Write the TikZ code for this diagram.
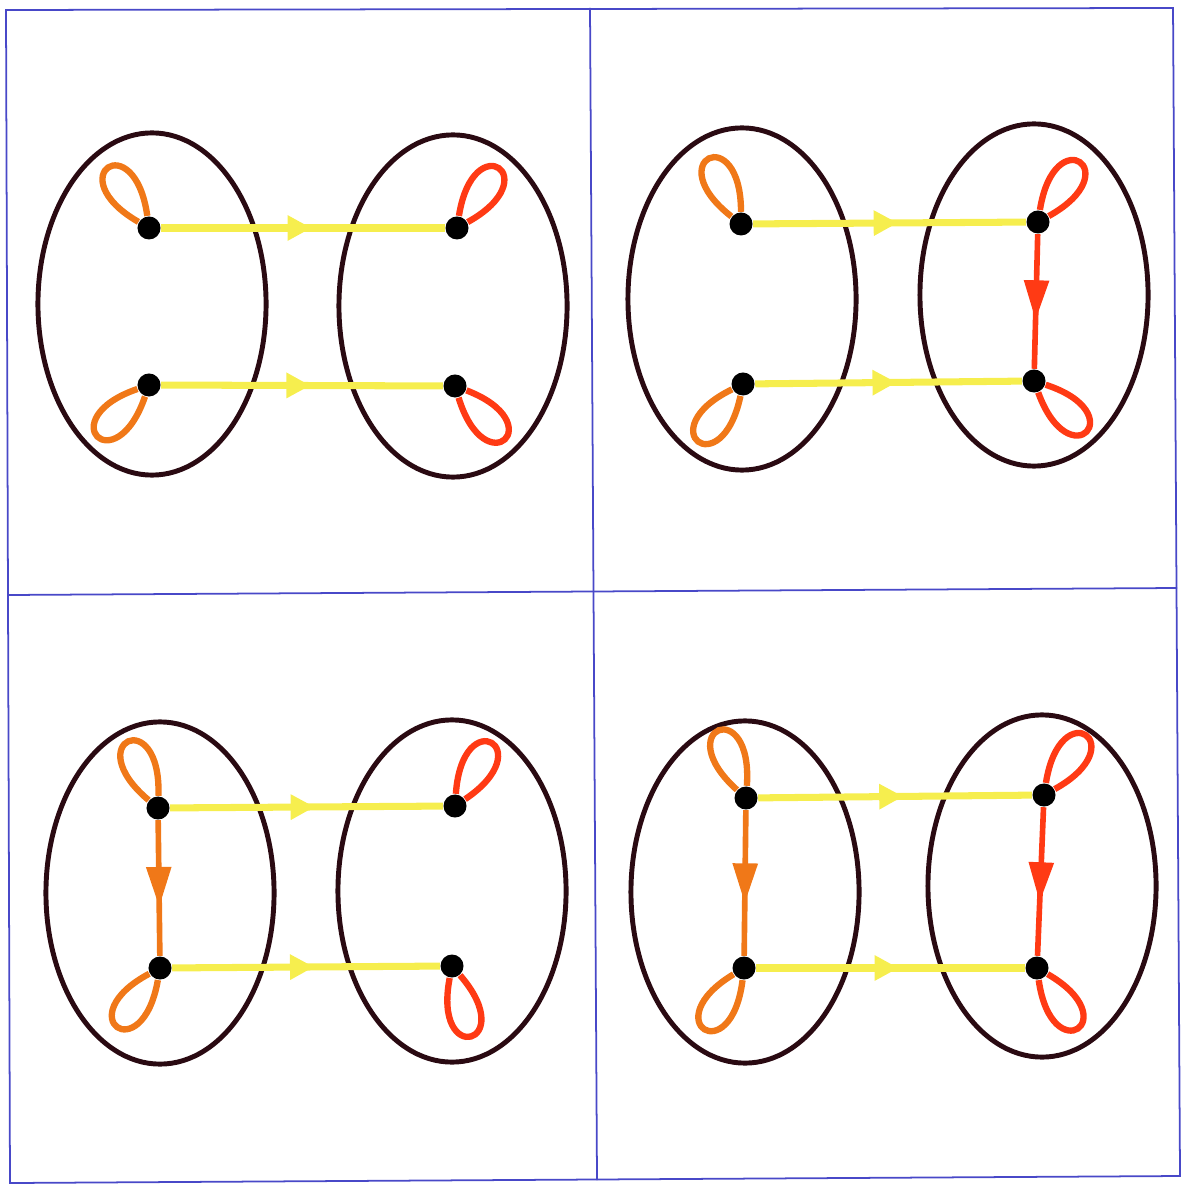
\documentclass[tikz,border=0pt]{standalone}
\usepackage{xcolor}
\definecolor{tinta}{HTML}{2A0A12}
\definecolor{marco}{HTML}{4848C8}
\definecolor{amarillo}{HTML}{F6EE4E}
\definecolor{naranja}{HTML}{F07818}
\definecolor{rojo}{HTML}{FF3A14}
\usepackage{tikz}
\usetikzlibrary{arrows.meta, shapes.geometric, decorations.markings}

\begin{document}
\begin{tikzpicture}[
  x=0.01cm, y=-0.01cm,
  conj/.style={
    ellipse, draw=tinta, line width=1.4pt,
    minimum width=2.28cm, minimum height=3.42cm,
    inner sep=0pt
  },
  punto/.style={circle, fill=black, inner sep=0pt, minimum size=2.3mm},
  flecha/.style={
    color=amarillo, line width=2pt, postaction={decorate},
    decoration={markings, mark=at position 0.53 with
      {\arrow{Triangle[length=2.4mm, width=2.4mm]}}}
  },
  baja/.style={
    line width=1.6pt, postaction={decorate},
    decoration={markings, mark=at position 0.64 with
      {\arrow{Triangle[length=4mm, width=2.4mm]}}}
  },
  lazo/.style={line width=1.8pt, min distance=0.92cm}
]
  \useasboundingbox (0,0) rectangle (1183,1186);
  % marco
  \draw[marco, line width=0.5pt] (6,10) -- (1173,8) -- (1180,1176) -- (10,1183) -- cycle;
  \draw[marco, line width=0.5pt] (590,8) -- (597,1180);
  \draw[marco, line width=0.5pt] (8,595) -- (1177,588);

  % panel a (arriba izquierda)
  \node[conj] (aL) at (152,304) {};
  \node[conj] (aR) at (453,306) {};
  \node[punto] (a1) at (149,228) {};
  \node[punto] (a2) at (149,385) {};
  \node[punto] (a3) at (457,228) {};
  \node[punto] (a4) at (455,386) {};
  \draw[flecha] (a1) -- (a3);
  \draw[flecha] (a2) -- (a4);
  \draw[lazo, naranja] (a1) to[out=150, in=98] (a1);
  \draw[lazo, naranja] (a2) to[out=251, in=199] (a2);
  \draw[lazo, rojo] (a3) to[out=81, in=29] (a3);
  \draw[lazo, rojo] (a4) to[out=-21, in=-73] (a4);

  % panel b (arriba derecha)
  \node[conj] (bL) at (742,299) {};
  \node[conj] (bR) at (1034,295) {};
  \node[punto] (b1) at (741,224) {};
  \node[punto] (b2) at (743,384) {};
  \node[punto] (b3) at (1038,222) {};
  \node[punto] (b4) at (1034,381) {};
  \draw[flecha] (b1) -- (b3);
  \draw[flecha] (b2) -- (b4);
  \draw[baja, rojo] (b3) -- (b4);
  \draw[lazo, naranja] (b1) to[out=142, in=90] (b1);
  \draw[lazo, naranja] (b2) to[out=258, in=206] (b2);
  \draw[lazo, rojo] (b3) to[out=81, in=29] (b3);
  \draw[lazo, rojo] (b4) to[out=-18, in=-70] (b4);

  % panel c (abajo izquierda)
  \node[conj] (cL) at (160,893) {};
  \node[conj] (cR) at (452,891) {};
  \node[punto] (c1) at (158,808) {};
  \node[punto] (c2) at (160,968) {};
  \node[punto] (c3) at (455,806) {};
  \node[punto] (c4) at (452,966) {};
  \draw[flecha] (c1) -- (c3);
  \draw[flecha] (c2) -- (c4);
  \draw[baja, naranja] (c1) -- (c2);
  \draw[lazo, naranja] (c1) to[out=140, in=88] (c1);
  \draw[lazo, naranja] (c2) to[out=260, in=208] (c2);
  \draw[lazo, rojo] (c3) to[out=86, in=34] (c3);
  \draw[lazo, rojo] (c4) to[out=-49, in=-101] (c4);

  % panel d (abajo derecha)
  \node[conj] (dL) at (745,892) {};
  \node[conj] (dR) at (1042,886) {};
  \node[punto] (d1) at (746,798) {};
  \node[punto] (d2) at (744,968) {};
  \node[punto] (d3) at (1044,795) {};
  \node[punto] (d4) at (1037,968) {};
  \draw[flecha] (d1) -- (d3);
  \draw[flecha] (d2) -- (d4);
  \draw[baja, naranja] (d1) -- (d2);
  \draw[baja, rojo] (d3) -- (d4);
  \draw[lazo, naranja] (d1) to[out=138, in=86] (d1);
  \draw[lazo, naranja] (d2) to[out=263, in=211] (d2);
  \draw[lazo, rojo] (d3) to[out=81, in=29] (d3);
  \draw[lazo, rojo] (d4) to[out=-30, in=-82] (d4);
\end{tikzpicture}
\end{document}
